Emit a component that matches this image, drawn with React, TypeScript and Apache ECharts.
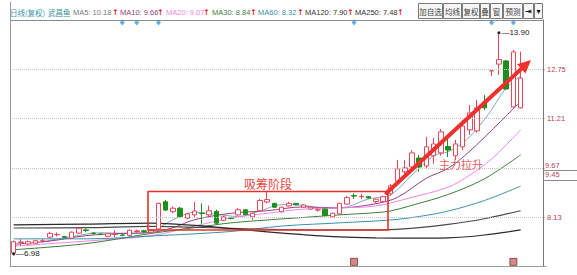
import React, { useEffect, useRef } from 'react';
import * as echarts from 'echarts';

// ---------- data ----------
const categories = Array.from({ length: 74 }, (_, i) => `D${i + 1}`);

const opens = [7.00, 7.34, 7.29, 7.31, 7.38, 7.50, 7.58, 7.52, 7.47, 7.63,
  7.73, 7.63, 7.60, 7.53, 7.59, 7.57, 7.56, 7.68, 7.70, 7.66,
  7.76, 8.61, 8.30, 8.41, 8.10, 8.20, 8.25, 8.20, 8.31, 8.03,
  8.10, 8.20, 8.36, 8.14, 8.33, 8.60, 8.56, 8.30, 8.48, 8.56,
  8.44, 8.38, 8.35, 8.38, 8.14, 8.23, 8.54, 8.80, 8.77, 8.77,
  8.62, 8.62, 8.86, 9.26, 9.55, 9.70, 9.98, 9.73, 10.05, 10.14,
  10.34, 10.05, 10.33, 10.86, 10.83, 11.73, 12.71, 12.92, 13.02, 11.58,
  11.55];
const closes = [7.36, 7.35, 7.36, 7.39, 7.39, 7.62, 7.59, 7.50, 7.66, 7.78,
  7.71, 7.62, 7.59, 7.61, 7.60, 7.56, 7.72, 7.70, 7.68, 7.72,
  8.56, 8.35, 8.41, 8.15, 8.23, 8.32, 8.24, 8.33, 7.94, 8.14,
  8.09, 8.36, 8.21, 8.25, 8.65, 8.68, 8.44, 8.44, 8.56, 8.52,
  8.51, 8.44, 8.36, 8.18, 8.25, 8.56, 8.74, 8.79, 8.78, 8.73,
  8.69, 8.77, 9.11, 9.64, 9.67, 10.14, 9.70, 10.33, 10.42, 10.80,
  10.23, 10.42, 10.98, 11.39, 11.55, 11.55, 12.71, 13.06, 12.14, 13.30,
  12.48];
const lows = [6.98, 7.24, 7.25, 7.28, 7.33, 7.47, 7.52, 7.48, 7.45, 7.60,
  7.66, 7.58, 7.56, 7.50, 7.50, 7.53, 7.54, 7.64, 7.64, 7.63,
  7.74, 8.32, 8.25, 8.12, 8.06, 8.10, 7.92, 8.13, 7.90, 8.00,
  8.06, 8.18, 8.19, 8.05, 8.30, 8.56, 8.42, 8.27, 8.46, 8.50,
  8.42, 8.36, 8.30, 8.16, 8.12, 8.21, 8.52, 8.70, 8.70, 8.71,
  8.55, 8.60, 8.80, 9.20, 9.42, 9.64, 9.55, 9.67, 9.80, 10.05,
  10.01, 9.92, 10.23, 10.70, 10.77, 11.48, 12.55, 12.58, 12.11, 11.56,
  11.53];
const highs = [7.40, 7.44, 7.40, 7.42, 7.45, 7.67, 7.65, 7.54, 7.68, 7.80,
  7.78, 7.66, 7.62, 7.63, 7.72, 7.60, 7.74, 7.74, 7.73, 7.75,
  8.58, 8.67, 8.46, 8.45, 8.26, 8.60, 8.56, 8.49, 8.36, 8.17,
  8.12, 8.42, 8.39, 8.27, 8.70, 8.93, 8.58, 8.46, 8.61, 8.58,
  8.53, 8.46, 8.40, 8.40, 8.27, 8.58, 8.79, 8.87, 8.85, 8.79,
  8.71, 8.80, 9.17, 9.92, 9.92, 10.23, 10.08, 10.64, 10.61, 10.89,
  10.70, 10.55, 11.17, 11.64, 11.80, 11.95, 12.71, 13.90, 13.05, 13.36,
  13.31];

// moving-average lines as [candle index, price]
const ma5Pts = [[4, 7.36], [8, 7.52], [12, 7.64], [16, 7.62], [19, 7.68], [22, 8.05], [25, 8.28], [28, 8.22], [31, 8.15], [34, 8.32], [37, 8.52], [40, 8.50], [43, 8.40], [46, 8.45], [49, 8.70], [52, 8.82], [55, 9.45], [58, 10.05], [60, 10.18], [62, 10.45], [64, 10.9], [66, 11.5], [68, 12.17], [70, 12.55]];
const ma10Pts = [[0, 7.28], [5, 7.38], [10, 7.55], [15, 7.62], [19, 7.65], [22, 7.80], [25, 8.05], [30, 8.25], [35, 8.33], [40, 8.45], [45, 8.42], [50, 8.55], [53, 8.75], [57, 9.35], [60, 9.66], [63, 10.2], [66, 10.85], [70, 11.75]];
const ma20Pts = [[0, 7.22], [10, 7.38], [19, 7.55], [25, 7.85], [30, 8.10], [35, 8.25], [40, 8.38], [45, 8.42], [50, 8.48], [55, 8.75], [60, 9.07], [63, 9.45], [66, 9.95], [70, 10.86]];
const ma30Pts = [[0, 7.11], [10, 7.30], [19, 7.62], [25, 7.80], [30, 7.95], [35, 8.04], [40, 8.12], [45, 8.20], [50, 8.27], [52, 8.32], [55, 8.50], [60, 8.84], [65, 9.33], [70, 10.08]];
const ma60Pts = [[0, 7.45], [10, 7.45], [20, 7.55], [30, 7.68], [37, 7.85], [45, 7.95], [52, 8.04], [56, 8.15], [60, 8.32], [65, 8.65], [70, 9.10]];
const ma120Pts = [[0, 7.79], [10, 7.80], [19, 7.84], [30, 7.78], [37, 7.74], [45, 7.72], [52, 7.74], [56, 7.80], [60, 7.90], [65, 8.08], [70, 8.33]];
const ma250Pts = [[0, 7.89], [10, 7.91], [19, 7.94], [25, 7.87], [30, 7.77], [35, 7.67], [40, 7.58], [45, 7.51], [50, 7.48], [55, 7.47], [60, 7.48], [65, 7.57], [70, 7.73]];

const maNames = ['MA5', 'MA10', 'MA20', 'MA30', 'MA60', 'MA120', 'MA250'];
const maValues = [10.18, 9.66, 9.07, 8.84, 8.32, 7.90, 7.48];

const axisLevels = [14.28, 12.75, 11.21, 8.13];
const closeLevels = [9.67, 9.45];
const gridLevels = [12.75, 11.21, 9.67, 8.13];
const eventMarks = [15, 17, 20, 47, 66, 69];
const bottomMarks = [47, 69];
const lowPoint = [0, 6.98];
const highPoint = [67, 13.90];

const toolbarLabels = ['加自选', '均线', '复权', '叠', '窗', '预测', '⇥', '▾'];

// ---------- styles / layout ----------
const maColors = ['#7fa9b9', '#93407f', '#ee86e6', '#3f7d3f', '#3b90a9', '#4a4a4a', '#2a2a2a'];
const maTextColors = ['#6f7c82', '#93407f', '#ee86e6', '#3f7d3f', '#3b90a9', '#333333', '#333333'];
const maTextX = [73, 120, 166, 212, 258, 305, 355];
const maArrowX = [112, 157, 203, 250, 297, 347, 397];
const toolbarEdges = [418, 443, 462, 480, 490, 503, 523, 534, 543];
const closeLabelShift = [-2, -0.5];
const AXIS_LABEL_COLOR = '#b8405a';
const FONT = '"Liberation Sans", Arial, "Noto Sans CJK SC", sans-serif';
const CJK = '"Noto Sans CJK SC", "Liberation Sans", sans-serif';

function buildOption() {
  const candleData = opens.map((o, i) => [o, closes[i], lows[i], highs[i]]);
  const maPts = [ma5Pts, ma10Pts, ma20Pts, ma30Pts, ma60Pts, ma120Pts, ma250Pts];

  const graphic: any[] = [];
  // header
  graphic.push({ type: 'text', z: 100, style: { text: '日线(复权)', x: 10, y: 12, verticalAlign: 'middle', fill: '#3a9aa8', fontSize: 7.5, fontFamily: CJK } });
  graphic.push({ type: 'text', z: 100, style: { text: '武昌鱼', x: 48, y: 12, verticalAlign: 'middle', fill: '#2e8c98', fontSize: 7.5, fontFamily: CJK } });
  maNames.forEach((n, i) => {
    graphic.push({ type: 'text', z: 100, style: { text: `${n}: ${maValues[i].toFixed(2)}`, x: maTextX[i], y: 12, verticalAlign: 'middle', fill: maTextColors[i], fontSize: 7.5, fontFamily: FONT } });
    graphic.push({ type: 'text', z: 100, style: { text: '↑', x: maArrowX[i], y: 12, verticalAlign: 'middle', fill: '#e02424', fontSize: 8, fontWeight: 'bold', fontFamily: '"DejaVu Sans", sans-serif' } });
  });
  // toolbar
  toolbarLabels.forEach((t, i) => {
    const x0 = toolbarEdges[i];
    const x1 = toolbarEdges[i + 1];
    graphic.push({ type: 'rect', z: 100, shape: { x: x0 + 0.5, y: 3.5, width: x1 - x0 - 1, height: 15 }, style: { fill: '#f6f6f6', stroke: '#7a7a7a', lineWidth: 1 } });
    graphic.push({ type: 'text', z: 101, style: { text: t, x: (x0 + x1) / 2, y: 11, align: 'center', verticalAlign: 'middle', fill: i >= 6 ? '#111' : '#444', fontSize: i >= 6 ? 8 : 7.5, fontWeight: i >= 6 ? 'bold' : 'normal', fontFamily: i >= 6 ? '"DejaVu Sans", sans-serif' : CJK } });
  });
  // frame lines
  graphic.push({ type: 'line', z: 50, shape: { x1: 10, y1: 20.5, x2: 543, y2: 20.5 }, style: { stroke: '#8a8a8a', lineWidth: 1 } });
  graphic.push({ type: 'line', z: 50, shape: { x1: 10.5, y1: 2, x2: 10.5, y2: 266 }, style: { stroke: '#9a9a9a', lineWidth: 1 } });
  graphic.push({ type: 'line', z: 50, shape: { x1: 543, y1: 170.5, x2: 577, y2: 170.5 }, style: { stroke: '#8a8a8a', lineWidth: 1 } });
  graphic.push({ type: 'line', z: 50, shape: { x1: 543, y1: 180.5, x2: 577, y2: 180.5 }, style: { stroke: '#8a8a8a', lineWidth: 1 } });
  // annotations
  graphic.push({ type: 'rect', z: 110, shape: { x: 148, y: 191.5, width: 240, height: 38.5 }, style: { fill: 'none', stroke: '#e8302a', lineWidth: 1.6 } });
  graphic.push({ type: 'text', z: 110, style: { text: '吸筹阶段', x: 268, y: 183, align: 'center', verticalAlign: 'middle', fill: '#e8443c', fontSize: 12, fontFamily: CJK } });
  graphic.push({ type: 'text', z: 110, style: { text: '主力拉升', x: 461, y: 164, align: 'center', verticalAlign: 'middle', fill: '#e85a5a', fontSize: 11, fontFamily: CJK } });
  graphic.push({ type: 'line', z: 110, shape: { x1: 386.5, y1: 193, x2: 521.4, y2: 68.8 }, style: { stroke: '#f0302c', lineWidth: 4, lineCap: 'round' } });
  graphic.push({ type: 'polygon', z: 110, shape: { points: [[531, 60], [525.5, 73.4], [517.2, 64.2]] }, style: { fill: '#f0302c' } });

  const series: any[] = maPts.map((pts, i) => ({
    name: maNames[i],
    type: 'line',
    data: pts,
    smooth: 0.35,
    symbol: 'none',
    silent: true,
    z: 2,
    lineStyle: { color: maColors[i], width: i >= 5 ? 1.2 : 1 },
  }));

  const lineLevels = Array.from(new Set([...axisLevels, ...gridLevels]));

  series.push({
    name: 'K',
    type: 'candlestick',
    data: candleData,
    barWidth: 5,
    z: 3,
    itemStyle: {
      color: '#ffffff',
      color0: '#1c8f1c',
      borderColor: '#e8465a',
      borderColor0: '#1c8f1c',
      borderWidth: 1,
    },
    markLine: {
      silent: true,
      symbol: 'none',
      animation: false,
      data: lineLevels.map((v) => ({
        yAxis: v,
        lineStyle: gridLevels.includes(v)
          ? { type: 'dotted', color: '#c4c4c4', width: 1 }
          : { opacity: 0 },
        label: { show: axisLevels.includes(v) },
      })),
      label: {
        position: 'end',
        distance: 1,
        color: AXIS_LABEL_COLOR,
        fontSize: 7.5,
        fontFamily: FONT,
        formatter: (p: any) => Number(p.value).toFixed(2),
      },
    },
    markPoint: {
      silent: true,
      symbol: 'circle',
      symbolSize: 3,
      itemStyle: { color: '#222' },
      label: {
        show: true,
        position: 'right',
        distance: 1,
        color: '#222',
        fontSize: 8,
        fontFamily: FONT,
        formatter: (p: any) => '—' + Number(p.value).toFixed(2),
      },
      data: [
        { coord: highPoint, value: highPoint[1] },
        { coord: lowPoint, value: lowPoint[1] },
      ],
    },
  });

  series.push({
    type: 'scatter',
    data: eventMarks.map((i) => [i, 14.22]),
    symbol: 'diamond',
    symbolSize: [5, 6],
    silent: true,
    z: 5,
    itemStyle: { color: '#3d9be0' },
  });
  series.push({
    type: 'scatter',
    data: bottomMarks.map((i) => [i, 6.73]),
    symbol: 'rect',
    symbolSize: 7,
    silent: true,
    z: 5,
    itemStyle: { color: '#c27070', borderColor: '#8a2a2a', borderWidth: 1 },
  });

  return {
    animation: false,
    backgroundColor: '#ffffff',
    grid: { left: 10, right: 31, top: 20, bottom: 9, containLabel: false },
    xAxis: {
      type: 'category',
      data: categories,
      boundaryGap: true,
      axisLine: { show: true, lineStyle: { color: '#9a9a9a' } },
      axisTick: { show: false },
      axisLabel: { show: false },
      splitLine: { show: false },
    },
    yAxis: {
      type: 'value',
      position: 'right',
      offset: -3,
      min: 6.6,
      max: 14.3,
      scale: true,
      axisLine: { show: true, lineStyle: { color: '#777' } },
      axisTick: { show: false },
      axisLabel: { show: false },
      splitLine: { show: false },
    },
    graphic,
    series,
  };
}

export default function App() {
  const ref = useRef<HTMLDivElement>(null);
  useEffect(() => {
    if (!ref.current) return;
    const chart = echarts.init(ref.current, null, { renderer: 'svg' });
    const option: any = buildOption();
    chart.setOption(option);
    // two close price labels placed through the axis scale, nudged apart
    closeLevels.forEach((v, i) => {
      const py = chart.convertToPixel({ yAxisIndex: 0 }, v) as number;
      option.graphic.push({
        type: 'text',
        z: 100,
        style: {
          text: v.toFixed(2),
          x: 545,
          y: py + closeLabelShift[i],
          verticalAlign: 'middle',
          fill: AXIS_LABEL_COLOR,
          fontSize: 7.5,
          fontFamily: FONT,
        },
      });
    });
    chart.setOption({ graphic: option.graphic });
    return () => chart.dispose();
  }, []);
  return (
    <div
      ref={ref}
      style={{ position: 'absolute', left: 0, top: 0, width: 577, height: 275, background: '#fff' }}
    />
  );
}
